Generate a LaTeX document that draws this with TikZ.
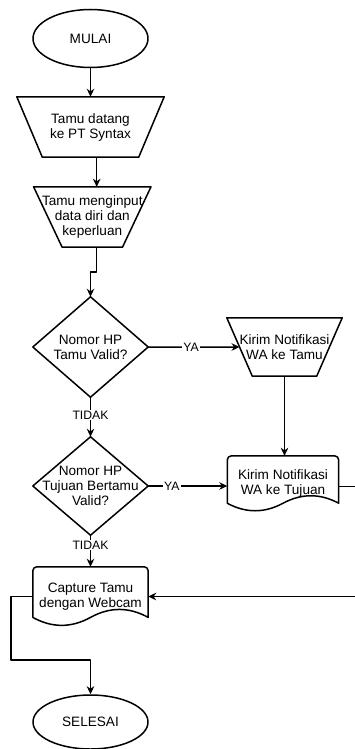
\documentclass[tikz,border=0pt]{standalone}
\usepackage{fontspec}
\setmainfont{Liberation Sans}
\usetikzlibrary{arrows.meta,calc,shapes.geometric}

\newcommand\flowfont{\fontsize{13.6}{15}\selectfont}
\newcommand\edgefont{\fontsize{12.2}{13}\selectfont}

% manual operation: wide top edge, bottom edge pulled in by #2
\newcommand\manualshape[2]{%
  \draw[outline] (#1.north west) -- (#1.north east)
    -- ([xshift=-#2]#1.south east) -- ([xshift=#2]#1.south west) -- cycle;
  \coordinate (#1-left) at ($(#1.north west)!0.5!([xshift=#2]#1.south west)$);
}
% decision diamond on the node's four side anchors
\newcommand\decisionshape[1]{%
  \draw[outline] (#1.north) -- (#1.east) -- (#1.south) -- (#1.west) -- cycle;
}
% document: rounded top corners, wavy bottom edge
% #2 = lift of the side ends, #3 = depth of the control points
\newcommand\docshape[3]{%
  \coordinate (#1-sw) at ([yshift=#2pt]#1.south west);
  \coordinate (#1-se) at ([yshift=#2pt]#1.south east);
  \draw[outline] (#1-sw) [rounded corners=4pt] -- (#1.north west) -- (#1.north east)
    [sharp corners] -- (#1-se)
    .. controls ($(#1-se)!1/6!(#1-sw)+(0pt,#3pt)$) and ($(#1-se)!1/3!(#1-sw)+(0pt,#3pt)$)
    .. ($(#1-se)!0.5!(#1-sw)$)
    .. controls ($(#1-se)!2/3!(#1-sw)-(0pt,#3pt)$) and ($(#1-se)!5/6!(#1-sw)-(0pt,#3pt)$)
    .. (#1-sw) -- cycle;
}

\begin{document}
\begin{tikzpicture}[x=1pt,y=-1pt,
  outline/.style={line width=1.5pt, line join=round, black},
  box/.style={rectangle, inner sep=0pt, align=center, font=\flowfont},
  terminal/.style={ellipse, draw, outline, inner sep=0pt, font=\flowfont,
    minimum width=115pt},
  arrow/.style={outline, -{Stealth[length=8pt,width=7.5pt,inset=2.5pt]}},
  edgelabel/.style={fill=white, inner sep=1pt, font=\edgefont},
]
\clip (0,0) rectangle (355,749);
\fill[white] (0,0) rectangle (355,749);

% nodes
\node[terminal, minimum height=58pt] (start) at (90.5,38.5) {MULAI};
\node[box, minimum width=147pt, minimum height=60pt] (arrive) at (90.5,127)
  {Tamu datang\\ke PT Syntax};
\node[box, minimum width=117pt, minimum height=60pt] (input) at (92.3,217)
  {Tamu menginput\\data diri dan\\keperluan};
\node[box, minimum width=115pt, minimum height=100pt] (phone) at (90.5,347)
  {Nomor HP\\Tamu Valid?};
\node[box, minimum width=115pt, minimum height=58pt] (notifyguest) at (284.5,347)
  {Kirim Notifikasi\\WA ke Tamu};
\node[box, minimum width=115pt, minimum height=98pt] (hostphone) at (90.5,486)
  {Nomor HP\\Tujuan Bertamu\\Valid?};
\node[box, minimum width=111pt, minimum height=55.3pt] (notifyhost) at (283,483.7)
  {Kirim Notifikasi\\WA ke Tujuan};
\node[box, minimum width=115pt, minimum height=59pt] (capture) at (90.5,596.5)
  {Capture Tamu\\dengan Webcam};
\node[terminal, minimum height=54pt] (finish) at (90.5,722) {SELESAI};

% outlines
\manualshape{arrive}{25.5pt}
\manualshape{input}{28.5pt}
\manualshape{notifyguest}{25.5pt}
\decisionshape{phone}
\decisionshape{hostphone}
\docshape{notifyhost}{8.3}{10}
\docshape{capture}{8.8}{10.6}

% connectors
\draw[arrow] (start.south) -- (arrive.north);
\draw[arrow] ([xshift=6.2pt]arrive.south) -- ([xshift=4.4pt]input.north);
\draw[arrow] ([xshift=4.4pt]input.south) -- ++(0,25) -| (phone.north);
\draw[arrow] (phone.east) -- node[edgelabel, pos=0.47] {YA} (notifyguest-left);
\draw[arrow] (phone.south) -- node[edgelabel, pos=0.45] {TIDAK} (hostphone.north);
\draw[arrow] (notifyguest.south) -- (notifyguest.south |- notifyhost.north);
\draw[arrow] (hostphone.east) -- node[edgelabel, pos=0.3] {YA} (hostphone.east -| notifyhost.west);
\draw[arrow] (hostphone.south) -- node[edgelabel, pos=0.31] {TIDAK} (capture.north);
\draw[arrow] ([yshift=-3pt]notifyhost.east) -- ++(30,0) |- (capture.east);
\draw[arrow] (capture.west) -- ++(-22,0) -- ++(0,63.5) -| (finish.north);
\end{tikzpicture}
\end{document}
